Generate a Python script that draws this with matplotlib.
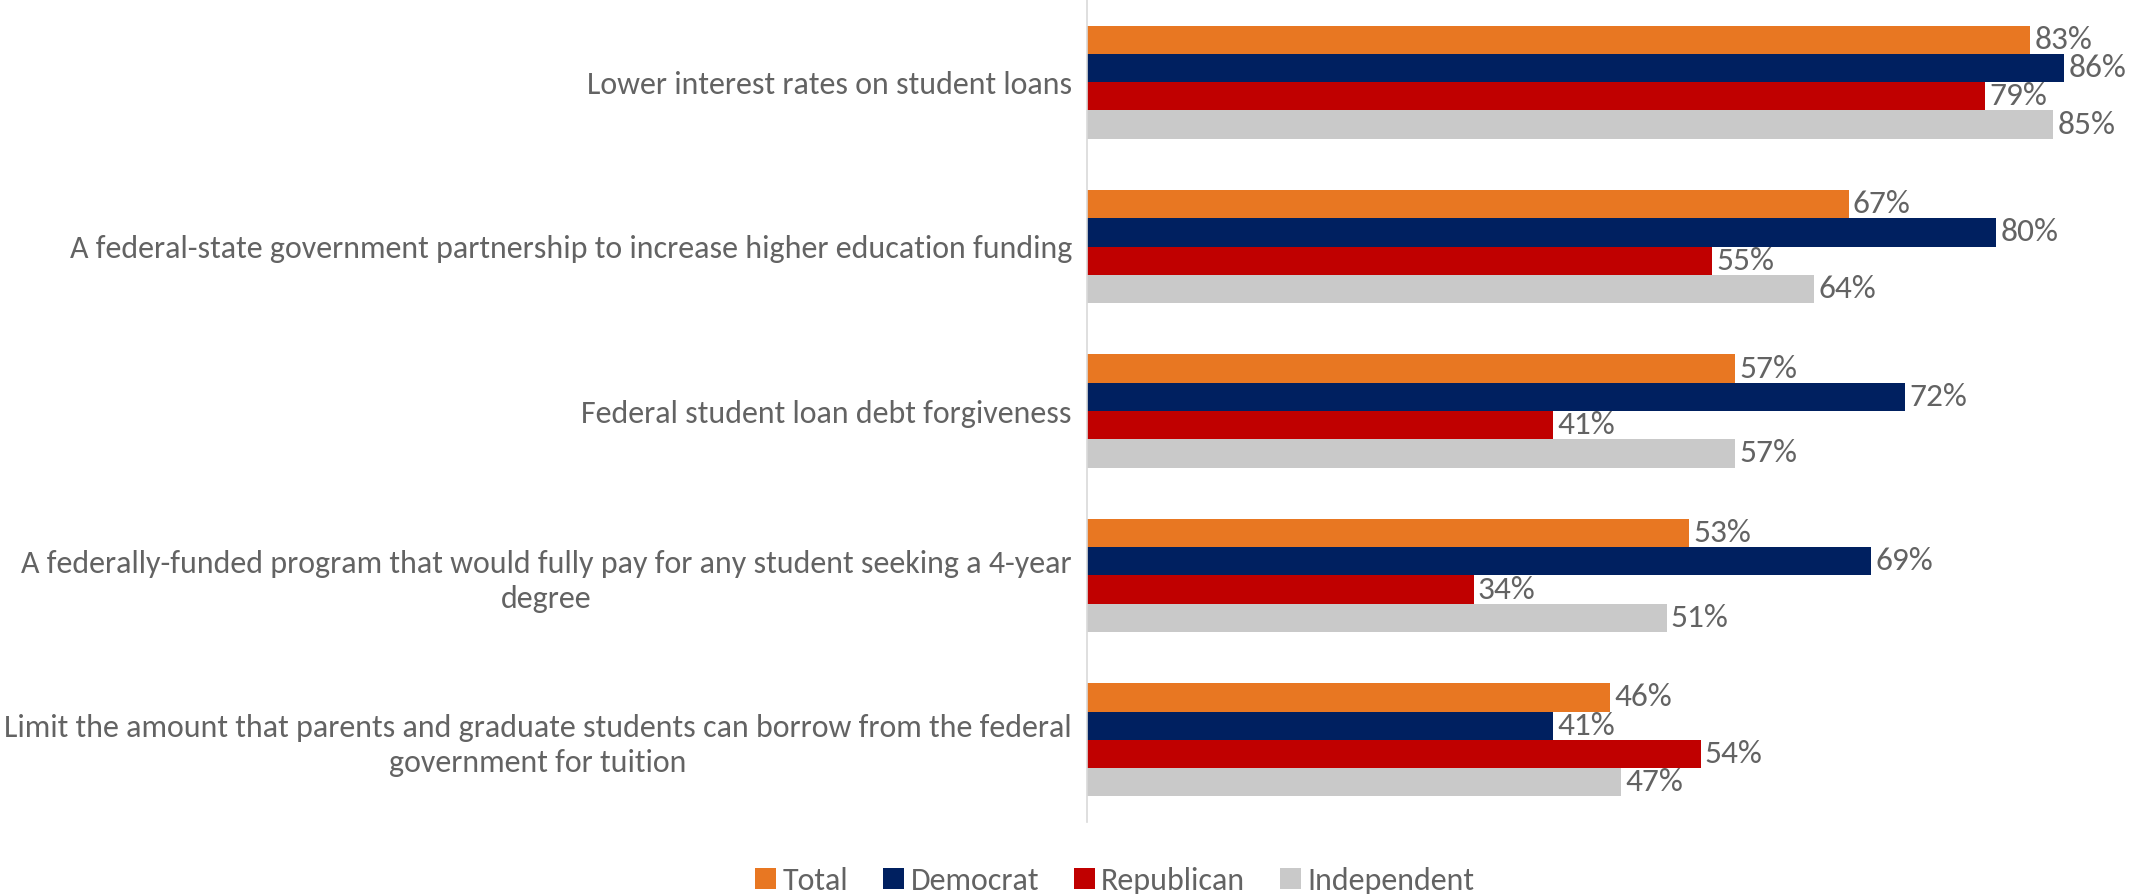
import numpy as np
import matplotlib
matplotlib.use("Agg")
import matplotlib.pyplot as plt
from matplotlib import font_manager

categories = [
    "Lower interest rates on student loans",
    "A federal-state government partnership to increase higher education funding",
    "Federal student loan debt forgiveness",
    "A federally-funded program that would fully pay for any student seeking a 4-year\ndegree",
    "Limit the amount that parents and graduate students can borrow from the federal\ngovernment for tuition",
]
series_names = ["Total", "Democrat", "Republican", "Independent"]
total = [83, 67, 57, 53, 46]
democrat = [86, 80, 72, 69, 41]
republican = [79, 55, 41, 34, 54]
independent = [85, 64, 57, 51, 47]
colors = ["#E87722", "#002060", "#C00000", "#C9C9C9"]

# pick a narrow, Calibri-like face if there is one
names = {f.name for f in font_manager.fontManager.ttflist}
family = "DejaVu Sans"
for cand in ["Carlito", "Open Sans Condensed", "Roboto Condensed",
             "Liberation Sans Narrow", "PT Sans Narrow", "Fira Sans Condensed",
             "Asap Condensed", "Encode Sans Condensed", "Roboto"]:
    if cand in names:
        family = cand
        break
plt.rcParams["font.family"] = [family, "DejaVu Sans"]
text_color = "#636363"

fig = plt.figure(figsize=(21.36, 8.94), dpi=100)
ax = fig.add_axes([0.509, 0.0805, 0.491, 0.9195])

values = [total, democrat, republican, independent]
n = len(categories)
y = np.arange(n)
h = 0.172
for i, (vals, name, c) in enumerate(zip(values, series_names, colors)):
    pos = y + (i - 1.5) * h
    bars = ax.barh(pos, vals, height=h, color=c, label=name)
    ax.bar_label(bars, labels=[f"{v}%" for v in vals], padding=3,
                 fontsize=24, color=text_color)

ax.set_ylim(n - 0.5, -0.5)
ax.set_xlim(0, 92.3)
ax.set_yticks(y)
ax.set_yticklabels(categories, fontsize=23, color=text_color,
                   multialignment="center", linespacing=1.3)
ax.tick_params(axis="y", length=0, pad=11)
ax.set_xticks([])
for s in ["top", "right", "bottom"]:
    ax.spines[s].set_visible(False)
ax.spines["left"].set_color("#D9D9D9")
ax.spines["left"].set_linewidth(1.2)

leg = fig.legend(loc="lower center", bbox_to_anchor=(0.522, -0.033), ncol=4,
                 frameon=False, fontsize=23, handlelength=0.65, handleheight=0.65,
                 handletextpad=0.2, columnspacing=1.1)
for t in leg.get_texts():
    t.set_color(text_color)

fig.savefig("out.png", dpi=100)
